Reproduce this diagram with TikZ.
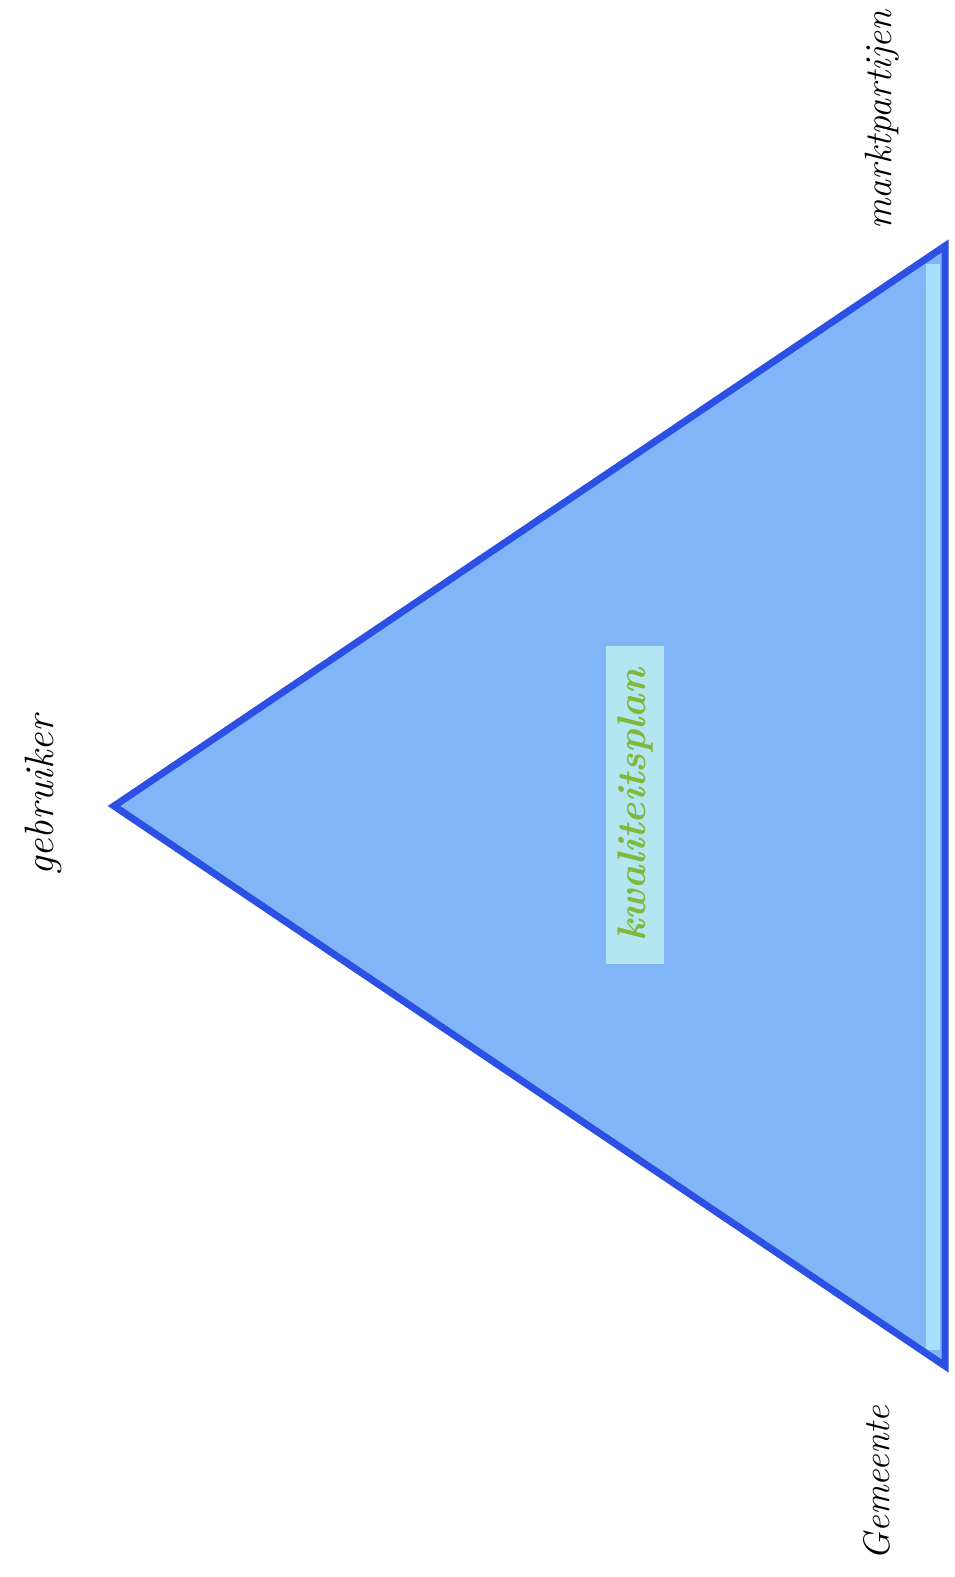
\documentclass[tikz,border=0pt]{standalone}
\usepackage{tikz}
\definecolor{triFill}{HTML}{80B6F8}
\definecolor{triEdge}{HTML}{2C50E4}
\definecolor{triBand}{HTML}{A6E2FF}
\definecolor{midFill}{HTML}{B4E6F2}
\definecolor{midText}{HTML}{7FB83A}
\begin{document}
\begin{tikzpicture}[x=1pt,y=-1pt,
  lbl/.style={rotate=90,font=\fontsize{41}{43}\selectfont\itshape,text=black,inner sep=0pt}]
\useasboundingbox (0,0) rectangle (955,1577);
\fill[white] (0,0) rectangle (955,1577);
\coordinate (A) at (114,806);
\coordinate (B) at (945,246);
\coordinate (C) at (945,1366);
% triangle
\fill[triFill] (A) -- (B) -- (C) -- cycle;
\fill[triBand] (926,264) rectangle (940,1350);
\draw[triEdge,line width=7pt,line join=miter] (A) -- (B) -- (C) -- cycle;
% labels
\node[lbl] (gebruiker) at (43,796) {gebruiker};
\node[lbl,font=\fontsize{38}{40}\selectfont\itshape] (markt) at (882,120) {marktpartijen};
\node[lbl,font=\fontsize{37}{39}\selectfont\itshape] (gemeente) at (877,1483) {Gemeente};
% centre label
\node[rotate=90,fill=midFill,text=midText,inner sep=0pt,minimum width=318pt,minimum height=58pt,
  font=\fontsize{40}{42}\selectfont\itshape\bfseries] (mid) at (635,805) {kwaliteitsplan};
\end{tikzpicture}
\end{document}
